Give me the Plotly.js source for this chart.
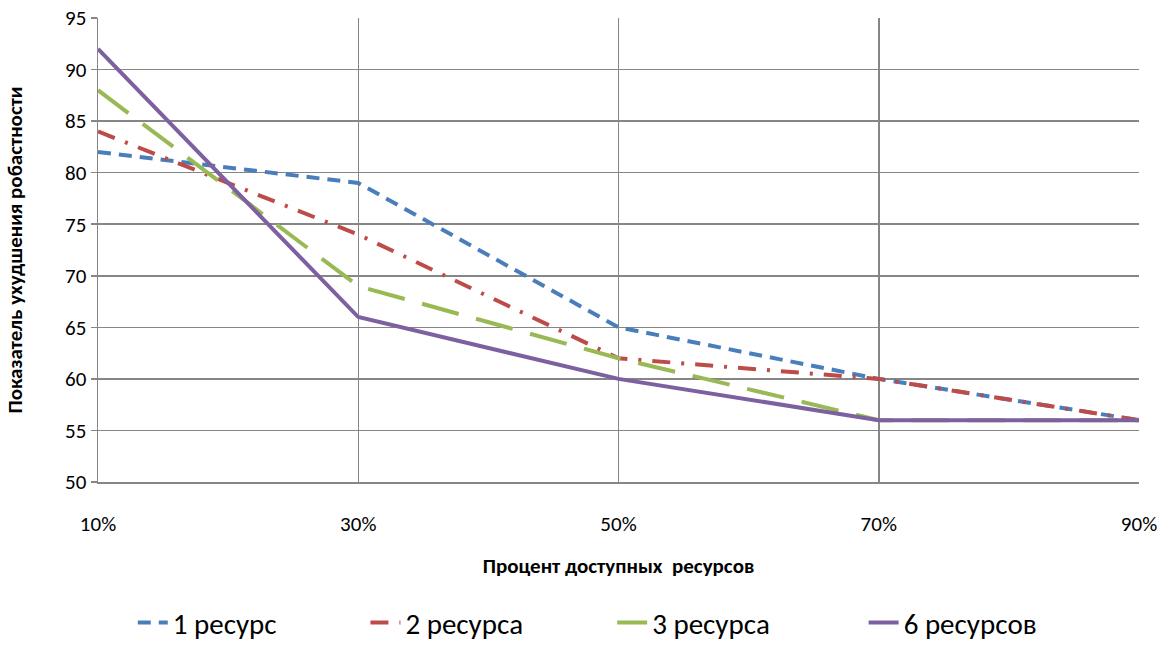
<!DOCTYPE html>
<html><head><meta charset="utf-8">
<script src="https://cdn.plot.ly/plotly-3.0.1.min.js"></script>
<style>body{margin:0;background:#fff}#c{width:1175px;height:646px}</style>
</head><body><div id="c"></div>
<script>
const xVals = [10, 30, 50, 70, 90];
const xTickText = ['10%', '30%', '50%', '70%', '90%'];
const seriesNames = ['1 ресурс', '2 ресурса', '3 ресурса', '6 ресурсов'];
const s1 = [82, 79, 65, 60, 56];
const s2 = [84, 74, 62, 60, 56];
const s3 = [88, 69, 62, 56, 56];
const s6 = [92, 66, 60, 56, 56];
const yTicks = [50, 55, 60, 65, 70, 75, 80, 85, 90, 95];

const FONT = "Carlito, 'Liberation Sans', Arial, sans-serif";
const styles = [
  {color: '#4a7ebb', dash: '13px,8px'},
  {color: '#be4b48', dash: '18px,11px,3px,11px'},
  {color: '#98b954', dash: '38px,18px'},
  {color: '#7d60a0', dash: 'solid'}
];
const legendIds = ['legend', 'legend2', 'legend3', 'legend4'];
const legendX = [0.113, 0.311, 0.521, 0.735];
const data = [s1, s2, s3, s6].map((y, i) => ({
  x: xVals, y: y, name: seriesNames[i], type: 'scatter', mode: 'lines',
  legend: legendIds[i],
  line: {color: styles[i].color, width: 4, dash: styles[i].dash}
}));
const layout = {
  width: 1175, height: 646,
  margin: {l: 98, r: 36, t: 18, b: 164},
  paper_bgcolor: '#fff', plot_bgcolor: '#fff',
  font: {family: FONT, color: '#000'},
  xaxis: {
    range: [10, 90], tickvals: xVals, ticktext: xTickText,
    showgrid: true, gridcolor: '#868686', gridwidth: 1.5,
    showline: true, linecolor: '#868686', linewidth: 1.5, mirror: false,
    ticks: 'outside', ticklen: 22, tickcolor: 'rgba(0,0,0,0)',
    tickfont: {size: 21, family: FONT}, zeroline: false, automargin: false,
    title: {text: '<b>Процент доступных  ресурсов</b>', font: {size: 21, family: FONT}, standoff: 22}
  },
  yaxis: {
    range: [50, 95], tickvals: yTicks,
    showgrid: true, gridcolor: '#868686', gridwidth: 1.5,
    showline: true, linecolor: '#868686', linewidth: 1.5,
    ticks: 'outside', ticklen: 6, tickcolor: '#868686', tickwidth: 1.5,
    tickfont: {size: 21, family: FONT}, zeroline: false, automargin: false,
    title: {text: '<b>Показатель ухудшения робастности</b>', font: {size: 21, family: FONT}, standoff: 36}
  },
  showlegend: true
};
legendIds.forEach((id, i) => {
  layout[id] = {
    orientation: 'h', xref: 'container', yref: 'container',
    x: legendX[i], xanchor: 'left', y: 0.036, yanchor: 'middle',
    font: {size: 29, family: FONT}, bgcolor: 'rgba(0,0,0,0)'
  };
});
Plotly.newPlot('c', data, layout, {displayModeBar: false, staticPlot: true});
</script></body></html>
